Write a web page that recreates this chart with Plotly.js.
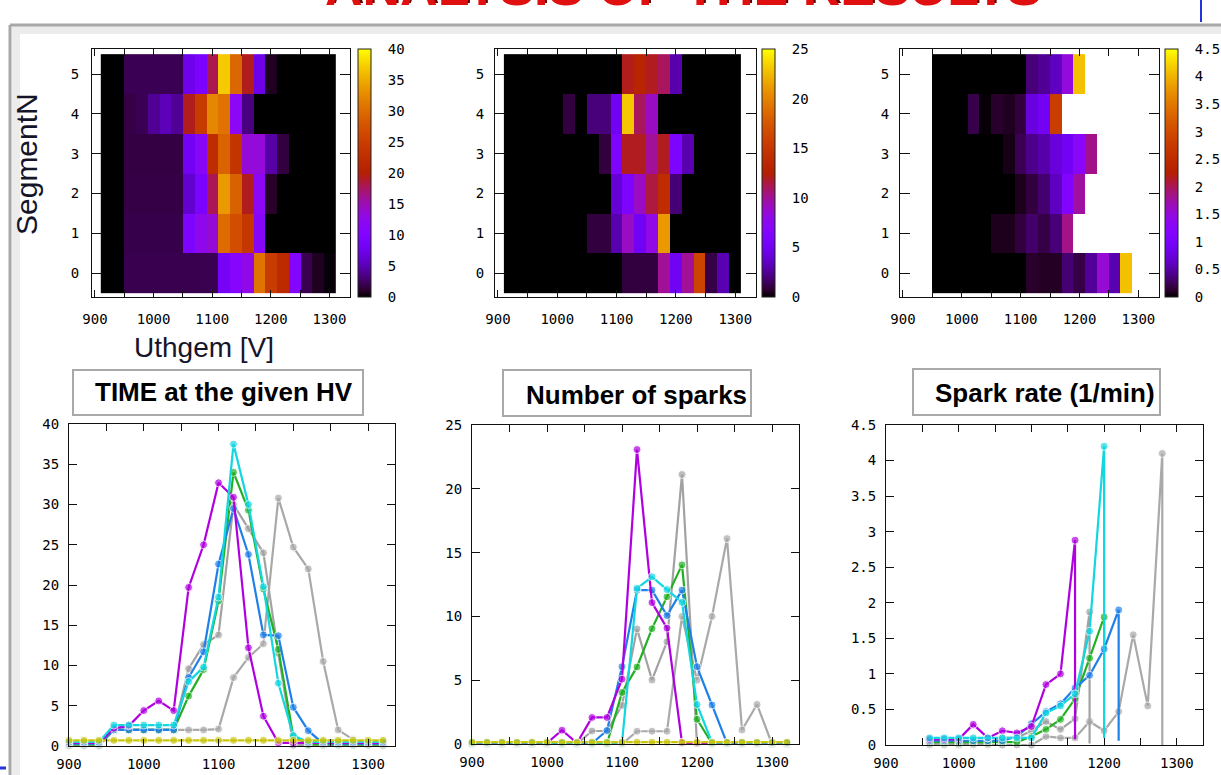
<!DOCTYPE html>
<html><head><meta charset="utf-8">
<script src="https://cdn.plot.ly/plotly-3.0.1.min.js"></script>
<style>html,body{margin:0;padding:0;background:#fff;}#chart{width:1221px;height:775px;}</style>
</head><body><div id="chart"></div>
<script>
// ---------------- DATA ----------------
const voltage = [900,920,940,960,980,1000,1020,1040,1060,1080,1100,1120,1140,1160,1180,1200,1220,1240,1260,1280,1300,1320];
const heatVoltage = [920,940,960,980,1000,1020,1040,1060,1080,1100,1120,1140,1160,1180,1200,1220,1240,1260,1280,1300];
const segmentN = [0,1,2,3,4,5];
const segmentNames = ['seg 0','seg 1','seg 2','seg 3','seg 4','seg 5'];

// TIME at the given HV (per segment)
const timeSeg0 = [0,0,0,2,2,2,2,2,2,2,2.1,8.5,11,12.7,30.8,24.7,22,10.5,2,0.8,0.2,0];
const timeSeg1 = [0,0,0,1.9,1.9,1.9,1.9,1.9,9.5,12.5,13.7,29.9,26.9,23.9,11.4,0,0,0,0,0,0,0];
const timeSeg2 = [0,0,0,1.8,1.8,1.8,1.8,1.8,6,9.3,17.8,33.8,29.1,19.3,11.8,1,0,0,0,0,0,0];
const timeSeg3 = [0,0,0,1.7,1.7,1.7,1.7,1.7,8.2,11.4,22.3,29.2,23.5,13.5,13.4,4.5,1.6,0,0,0,0,0];
const timeSeg4 = [0,0,0,1.8,2.1,4,5.2,4,19.3,24.6,32.3,30.5,11.8,3.3,0,0,0,0,0,0,0,0];
const timeSeg5 = [0,0,0,2.1,2.1,2.1,2.1,2.1,7.5,9.3,18,37,29.5,19.3,7.3,0.8,0,0,0,0,0,0];
const timeSeg7 = [0,0,0,0,0,0,0,0,0,0,0,0,0,0,0,0,0,0,0,0,0,0];

// Number of sparks (per segment)
const sparksSeg0 = [0,0,0,0,0,0,0,0,0,0,0,1,1,1,10,5,10,16.1,1.1,3.1,0,0];
const sparksSeg1 = [0,0,0,0,0,0,0,0,1,1,3,9,5,8,21.1,0,0,0,0,0,0,0];
const sparksSeg2 = [0,0,0,0,0,0,0,0,0,0,4,6,9,11.5,14,1.9,0,0,0,0,0,0];
const sparksSeg3 = [0,0,0,0,0,0,0,0,0,1,6,12,12,10,12,6,3,0,0,0,0,0];
const sparksSeg4 = [0,0,0,0,0,0,1,0,2,2,5,23,11,9,0,0,0,0,0,0,0,0];
const sparksSeg5 = [0,0,0,0,0,0,0,0,0,0,0,12.1,13,12,11,3,0,0,0,0,0,0];
const sparksSeg7 = [0,0,0,0,0,0,0,0,0,0,0,0,0,0,0,0,0,0,0,0,0,0];

// Spark rate (1/min) - each series ends with a drop at its last voltage
const rateX0 = [960,980,1000,1020,1040,1060,1080,1100,1120,1140,1160,1180,1200,1220,1240,1260,1280,1280];
const rateSeg0 = [0,0,0,0,0,0,0,0,0.12,0.1,0.1,0.33,0.2,0.47,1.55,0.55,4.1,0];
const rateX1 = [960,980,1000,1020,1040,1060,1080,1100,1120,1140,1160,1180,1180];
const rateSeg1 = [0,0,0,0,0,0.08,0.08,0.18,0.31,0.2,0.35,1.85,0];
const rateX2 = [960,980,1000,1020,1040,1060,1080,1100,1120,1140,1160,1180,1200,1200];
const rateSeg2 = [0,0,0,0,0,0,0,0.08,0.18,0.32,0.61,1.18,1.76,0.86];
const rateX3 = [960,980,1000,1020,1040,1060,1080,1100,1120,1140,1160,1180,1200,1220,1220];
const rateSeg3 = [0,0,0,0,0,0,0.06,0.24,0.41,0.52,0.74,0.92,1.29,1.84,0];
const rateX4 = [960,980,1000,1020,1040,1060,1080,1100,1120,1140,1160,1160];
const rateSeg4 = [0,0,0,0.21,0.02,0.12,0.09,0.18,0.77,0.92,2.8,0];
const rateX5 = [960,980,1000,1020,1040,1060,1080,1100,1120,1140,1160,1180,1200,1200];
const rateSeg5 = [0,0,0,0,0,0,0,0,0.35,0.45,0.62,1.5,4.1,0];

// ---------------- STYLE ----------------
const W = 1221, H = 775;
const fx = p => p / W;
const fy = p => 1 - p / H;
const segColors = ['#a9a9a9','#a2a2a2','#22b022','#1f80e8','#b000e0','#12d6e0'];
const refColor = '#c9c50c';
const tickFont = {family: 'DejaVu Sans Mono, monospace', size: 14, color: '#000'};
// vertical separation between overlapping curves (per curve index), in data units of each chart
const sepTime = 0.1, sepSparks = 0.02, sepRate = 0.02;

function gnuplotScale(n) {
  const out = [];
  for (let i = 0; i <= n; i++) {
    const t = i / n;
    const r = Math.sqrt(t), g = t * t * t, b = Math.max(0, Math.sin(2 * Math.PI * t));
    out.push([t, 'rgb(' + Math.round(255 * r) + ',' + Math.round(255 * g) + ',' + Math.round(255 * b) + ')']);
  }
  return out;
}
const cscale = gnuplotScale(40);

function rowAt(xs, ys, cols) {
  return cols.map(c => { const i = xs.indexOf(c); return i < 0 ? null : ys[i]; });
}

const timeSeries = [timeSeg0, timeSeg1, timeSeg2, timeSeg3, timeSeg4, timeSeg5];
const sparksSeries = [sparksSeg0, sparksSeg1, sparksSeg2, sparksSeg3, sparksSeg4, sparksSeg5];
const rateXs = [rateX0, rateX1, rateX2, rateX3, rateX4, rateX5];
const rateSeries = [rateSeg0, rateSeg1, rateSeg2, rateSeg3, rateSeg4, rateSeg5];

const timeZ = timeSeries.map(s => rowAt(voltage, s, heatVoltage));
const sparksZ = sparksSeries.map(s => rowAt(voltage, s, heatVoltage));
const rateZ = rateSeries.map((s, k) => rowAt(rateXs[k], s, heatVoltage));

function cbar(left, dt) {
  return {
    x: fx(left), xanchor: 'left', xpad: 0, y: fy(49), yanchor: 'top', ypad: 0,
    len: (297 - 49) / H, lenmode: 'fraction', thickness: 13, thicknessmode: 'pixels',
    outlinewidth: 1, outlinecolor: '#222',
    tickmode: 'linear', tick0: 0, dtick: dt, ticks: 'outside', ticklen: 14,
    tickcolor: 'rgba(0,0,0,0)', tickfont: tickFont
  };
}

const traces = [];
[[timeZ, 'x', 'y', 358, 40, 5], [sparksZ, 'x2', 'y2', 762, 25, 5], [rateZ, 'x3', 'y3', 1165, 4.5, 0.5]].forEach(d => {
  traces.push({
    type: 'heatmap', x: heatVoltage, y: segmentN, z: d[0], xaxis: d[1], yaxis: d[2],
    colorscale: cscale, zmin: 0, zmax: d[4], zsmooth: false, hoverinfo: 'skip',
    colorbar: cbar(d[3], d[5])
  });
});

function lineTrace(x, y, k, sep, color, name, xa, ya, dropLast) {
  const sizes = y.map((v, i) => (dropLast && i === y.length - 1) ? 0 : 8);
  return {
    type: 'scatter', mode: 'lines+markers', x: x, y: y.map(v => v + k * sep), name: name, xaxis: xa, yaxis: ya,
    line: {color: color, width: 2.2}, marker: {color: color, size: sizes, symbol: 'circle'},
    cliponaxis: false, showlegend: false, hoverinfo: 'skip'
  };
}
timeSeries.forEach((s, k) => traces.push(lineTrace(voltage, s, k, sepTime, segColors[k], segmentNames[k], 'x4', 'y4', false)));
traces.push(lineTrace(voltage, timeSeg7, 7, sepTime, refColor, 'seg 7', 'x4', 'y4', false));
sparksSeries.forEach((s, k) => traces.push(lineTrace(voltage, s, k, sepSparks, segColors[k], segmentNames[k], 'x5', 'y5', false)));
traces.push(lineTrace(voltage, sparksSeg7, 7, sepSparks, refColor, 'seg 7', 'x5', 'y5', false));
rateSeries.forEach((s, k) => traces.push(lineTrace(rateXs[k], s, k, sepRate, segColors[k], segmentNames[k], 'x6', 'y6', true)));

function xAx(l, r, anchor, range, standoff) {
  return {
    domain: [fx(l), fx(r)], range: range, anchor: anchor,
    showline: true, linecolor: '#111', linewidth: 1, mirror: 'allticks',
    ticks: 'inside', ticklen: 7, tickcolor: '#111', tick0: 900, dtick: 100,
    minor: {tick0: 950, dtick: 100, ticks: 'inside', ticklen: 7, tickcolor: '#111'},
    showgrid: false, zeroline: false, tickfont: tickFont, ticklabelstandoff: standoff, fixedrange: true
  };
}
function yAx(t, b, anchor, range, dt, len, standoff) {
  return {
    domain: [fy(b), fy(t)], range: range, anchor: anchor,
    showline: true, linecolor: '#111', linewidth: 1, mirror: 'allticks',
    ticks: 'inside', ticklen: len, tickcolor: '#111', tick0: 0, dtick: dt,
    showgrid: false, zeroline: false, tickfont: tickFont, ticklabelstandoff: standoff, fixedrange: true
  };
}

const hx = [895, 1335], lx = [900, 1336], hy = [-0.6, 5.63];
const titleFont = {family: 'Liberation Sans, Arial', size: 26, color: '#000'};
const layout = {
  width: W, height: H, margin: {l: 0, r: 0, t: 0, b: 0, autoexpand: false},
  paper_bgcolor: '#fff', plot_bgcolor: '#fff', showlegend: false,
  xaxis:  xAx(92, 350, 'y', hx, 9),   yaxis:  yAx(49, 297, 'x', hy, 1, 10, 9),
  xaxis2: xAx(495, 756, 'y2', hx, 9), yaxis2: yAx(49, 297, 'x2', hy, 1, 10, 7),
  xaxis3: xAx(900, 1159, 'y3', hx, 9), yaxis3: yAx(49, 297, 'x3', hy, 1, 10, 7),
  xaxis4: xAx(69, 395, 'y4', lx, 5),   yaxis4: yAx(424, 746, 'x4', [0, 40], 5, 8, 6),
  xaxis5: xAx(472, 799, 'y5', lx, 5),  yaxis5: yAx(425, 744, 'x5', [0, 25], 5, 8, 6),
  xaxis6: xAx(886, 1203, 'y6', lx, 5), yaxis6: yAx(425, 745, 'x6', [0, 4.5], 0.5, 8, 6),
  shapes: [
    // slide frame
    {type: 'rect', xref: 'paper', yref: 'paper', x0: fx(12), x1: fx(20), y0: 0, y1: fy(26), fillcolor: '#ececec', line: {width: 0}, layer: 'below'},
    {type: 'rect', xref: 'paper', yref: 'paper', x0: fx(12), x1: 1, y0: fy(34), y1: fy(26), fillcolor: '#ececec', line: {width: 0}, layer: 'below'},
    {type: 'line', xref: 'paper', yref: 'paper', x0: fx(10), x1: 1, y0: fy(25), y1: fy(25), line: {color: '#a8a8a8', width: 3}},
    {type: 'line', xref: 'paper', yref: 'paper', x0: fx(10), x1: fx(10), y0: fy(25), y1: 0, line: {color: '#a8a8a8', width: 3}},
    {type: 'line', xref: 'paper', yref: 'paper', x0: fx(1201), x1: fx(1201), y0: 1, y1: fy(22), line: {color: '#2233dd', width: 2}},
    {type: 'line', xref: 'paper', yref: 'paper', x0: 0, x1: fx(6), y0: fy(768), y1: fy(768), line: {color: '#2233dd', width: 3}},
    // title boxes
    {type: 'rect', xref: 'paper', yref: 'paper', x0: fx(73), x1: fx(363), y0: fy(415), y1: fy(370), line: {color: '#a9a9a9', width: 2}, fillcolor: '#fff'},
    {type: 'rect', xref: 'paper', yref: 'paper', x0: fx(503), x1: fx(751), y0: fy(416), y1: fy(370), line: {color: '#a9a9a9', width: 2}, fillcolor: '#fff'},
    {type: 'rect', xref: 'paper', yref: 'paper', x0: fx(913), x1: fx(1160), y0: fy(415), y1: fy(369), line: {color: '#a9a9a9', width: 2}, fillcolor: '#fff'}
  ],
  annotations: [
    {xref: 'paper', yref: 'paper', x: fx(685), y: fy(16), xanchor: 'center', yanchor: 'bottom', showarrow: false,
     text: '<b>ANALYSIS OF THE RESULTS</b>', font: {family: 'Liberation Sans, Arial', size: 52, color: '#5a0000'}},
    {xref: 'paper', yref: 'paper', x: fx(683), y: fy(18), xanchor: 'center', yanchor: 'bottom', showarrow: false,
     text: '<b>ANALYSIS OF THE RESULTS</b>', font: {family: 'Liberation Sans, Arial', size: 52, color: '#e01010'}},
    {xref: 'paper', yref: 'paper', x: fx(26), y: fy(164), xanchor: 'center', yanchor: 'middle', textangle: -90, showarrow: false,
     text: 'SegmentN', font: {family: 'Liberation Sans, Arial', size: 30, color: '#15152a'}},
    {xref: 'paper', yref: 'paper', x: fx(204), y: fy(347), xanchor: 'center', yanchor: 'middle', showarrow: false,
     text: 'Uthgem [V]', font: {family: 'Liberation Sans, Arial', size: 28, color: '#15152a'}},
    {xref: 'paper', yref: 'paper', x: fx(224), y: fy(392), xanchor: 'center', yanchor: 'middle', showarrow: false,
     text: '<b>TIME at the given HV</b>', font: titleFont},
    {xref: 'paper', yref: 'paper', x: fx(636), y: fy(395), xanchor: 'center', yanchor: 'middle', showarrow: false,
     text: '<b>Number of sparks</b>', font: titleFont},
    {xref: 'paper', yref: 'paper', x: fx(1045), y: fy(393), xanchor: 'center', yanchor: 'middle', showarrow: false,
     text: '<b>Spark rate (1/min)</b>', font: titleFont}
  ]
};

Plotly.newPlot('chart', traces, layout, {staticPlot: true, displayModeBar: false});
</script>
</body></html>
